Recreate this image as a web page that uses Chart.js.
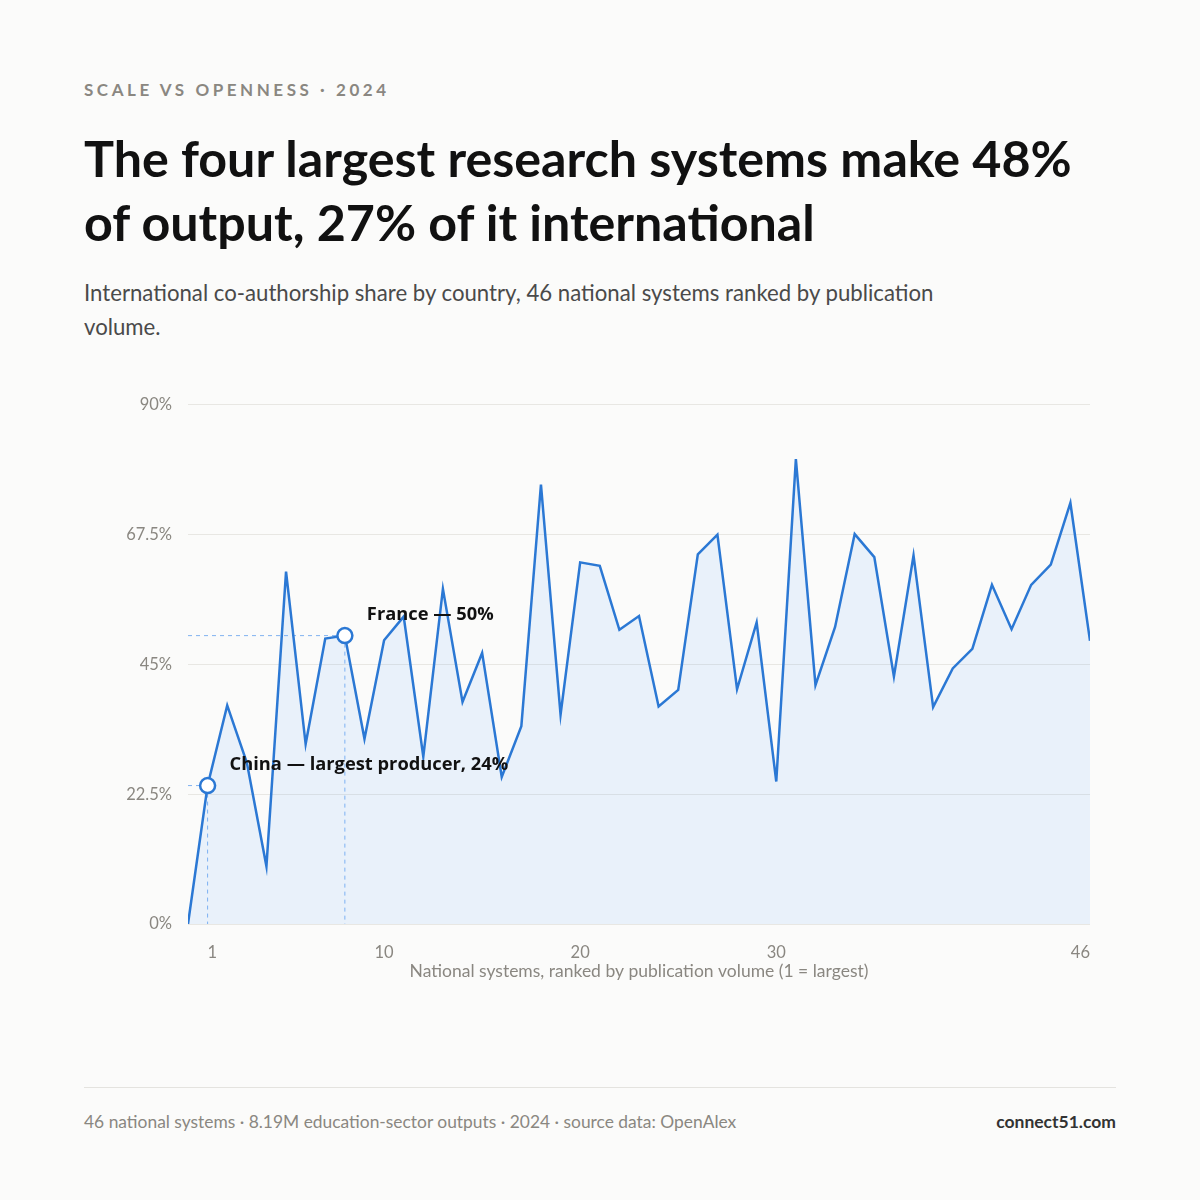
<!DOCTYPE html>
<html>
<head>
<meta charset="utf-8">
<script src="https://cdn.jsdelivr.net/npm/chart.js@4.4.1/dist/chart.umd.min.js"></script>
<style>
  html, body { margin: 0; padding: 0; background: #fbfbfa; }
  body { width: 1200px; height: 1200px; position: relative; font-family: Lato, sans-serif; overflow: hidden; }
  .kicker { position: absolute; left: 84px; top: 79px; font-size: 17px; font-weight: 700; letter-spacing: 3.55px; color: #8a8781; }
  h1 { position: absolute; left: 84px; top: 126px; margin: 0; width: 1010px; font-size: 50.2px; line-height: 64px; font-weight: 700; color: #111; }
  .sub { position: absolute; left: 84px; top: 276px; width: 900px; margin: 0; font-size: 22.2px; line-height: 34px; color: #4a4a4a; }
  .chart-wrap { position: absolute; left: 84px; top: 379px; width: 1032px; height: 622px; }
  .rule { position: absolute; left: 84px; top: 1087px; width: 1032px; height: 1px; background: #e4e3df; }
  .foot { position: absolute; left: 84px; top: 1111px; font-size: 17.4px; color: #8a8781; }
  .brand { position: absolute; right: 84px; top: 1111px; font-size: 17.5px; font-weight: 700; color: #333; }
</style>
</head>
<body>
  <div class="kicker">SCALE VS OPENNESS · 2024</div>
  <h1>The four largest research systems make 48% of output, 27% of it international</h1>
  <p class="sub">International co-authorship share by country, 46 national systems ranked by publication volume.</p>
  <div class="chart-wrap"><canvas id="chart"></canvas></div>
  <div class="rule"></div>
  <div class="foot">46 national systems · 8.19M education-sector outputs · 2024 · source data: OpenAlex</div>
  <div class="brand">connect51.com</div>

<script>
// ranks (1 = largest publisher); rank 0 anchors the line at 0%
const ranks = [0, 1, 2, 3, 4, 5, 6, 7, 8, 9, 10, 11, 12, 13, 14, 15, 16, 17, 18, 19, 20, 21, 22, 23,
  24, 25, 26, 27, 28, 29, 30, 31, 32, 33, 34, 35, 36, 37, 38, 39, 40, 41, 42, 43, 44, 45, 46];
// international co-authorship share, %
const shares = [0, 24, 37.9, 28, 10, 61.1, 31.2, 49.5, 50, 32.1, 49.2, 53.3, 29, 58.1, 38.5, 47,
  25.5, 34.3, 76.2, 36.3, 62.7, 62.1, 51, 53.4, 37.7, 40.6, 64.1, 67.5, 40.7, 52.3, 24.7, 80.6,
  41.4, 51.5, 67.6, 63.6, 42.9, 63.9, 37.6, 44.3, 47.7, 58.8, 51.1, 58.8, 62.3, 73, 49.1];
const xTicks = [1, 10, 20, 30, 46];
const yTicks = [0, 22.5, 45, 67.5, 90];
const callouts = [
  { rank: 1, text: 'China — largest producer, 24%' },
  { rank: 8, text: 'France — 50%' },
];

const BLUE = '#2b78d4';
const GREY = '#8a8781';
const calloutRanks = callouts.map((c) => c.rank);

// dashed guides under the line, labels on top
const calloutPlugin = {
  id: 'callouts',
  beforeDatasetsDraw(chart) {
    const { ctx, scales: { x, y }, chartArea } = chart;
    ctx.save();
    ctx.strokeStyle = '#80b2f0';
    ctx.lineWidth = 1;
    ctx.setLineDash([4, 4]);
    for (const c of callouts) {
      const px = x.getPixelForValue(c.rank);
      const py = y.getPixelForValue(shares[ranks.indexOf(c.rank)]);
      ctx.beginPath();
      ctx.moveTo(chartArea.left, py);
      ctx.lineTo(px, py);
      ctx.moveTo(px, py);
      ctx.lineTo(px, chartArea.bottom);
      ctx.stroke();
    }
    ctx.restore();
  },
  afterDatasetsDraw(chart) {
    const { ctx, scales: { x, y } } = chart;
    ctx.save();
    ctx.font = 'bold 18.3px "Open Sans", sans-serif';
    ctx.fillStyle = '#111';
    ctx.textAlign = 'left';
    ctx.textBaseline = 'middle';
    for (const c of callouts) {
      const px = x.getPixelForValue(c.rank);
      const py = y.getPixelForValue(shares[ranks.indexOf(c.rank)]);
      ctx.fillText(c.text, px + 22, py - 21);
    }
    ctx.restore();
  },
};

new Chart(document.getElementById('chart'), {
  type: 'line',
  data: {
    datasets: [{
      data: ranks.map((r, i) => ({ x: r, y: shares[i] })),
      borderColor: BLUE,
      borderWidth: 2.5,
      backgroundColor: 'rgba(81,161,255,0.1)',
      fill: 'origin',
      tension: 0,
      pointRadius: ranks.map((r) => (calloutRanks.includes(r) ? 7.5 : 0)),
      pointBackgroundColor: '#fff',
      pointBorderColor: BLUE,
      pointBorderWidth: 2.5,
    }],
  },
  options: {
    responsive: true,
    maintainAspectRatio: false,
    animation: false,
    layout: { padding: { top: 23, right: 26, left: 0, bottom: 0 } },
    plugins: { legend: { display: false }, tooltip: { enabled: false } },
    scales: {
      x: {
        type: 'linear',
        min: 0,
        max: 46,
        grid: { display: false, drawTicks: false },
        border: { display: false },
        afterBuildTicks: (scale) => { scale.ticks = xTicks.map((v) => ({ value: v })); },
        afterFit: (scale) => { scale.height = 77; },
        ticks: {
          align: 'inner',
          padding: 19,
          color: GREY,
          font: { family: 'Lato', size: 16.5 },
          callback: (v) => String(v),
        },
        title: {
          display: true,
          text: 'National systems, ranked by publication volume (1 = largest)',
          color: GREY,
          font: { family: 'Lato', size: 17.5 },
          padding: { top: 0, bottom: 19 },
        },
      },
      y: {
        min: 0,
        max: 90,
        grid: { color: '#e8e7e3', lineWidth: 1, drawTicks: false },
        border: { display: false },
        afterBuildTicks: (scale) => { scale.ticks = yTicks.map((v) => ({ value: v })); },
        afterFit: (scale) => { scale.width = 104; },
        ticks: {
          padding: 16,
          color: GREY,
          font: { family: 'Lato', size: 16.5 },
          callback: (v) => v + '%',
        },
      },
    },
  },
  plugins: [calloutPlugin],
});
</script>
</body>
</html>
